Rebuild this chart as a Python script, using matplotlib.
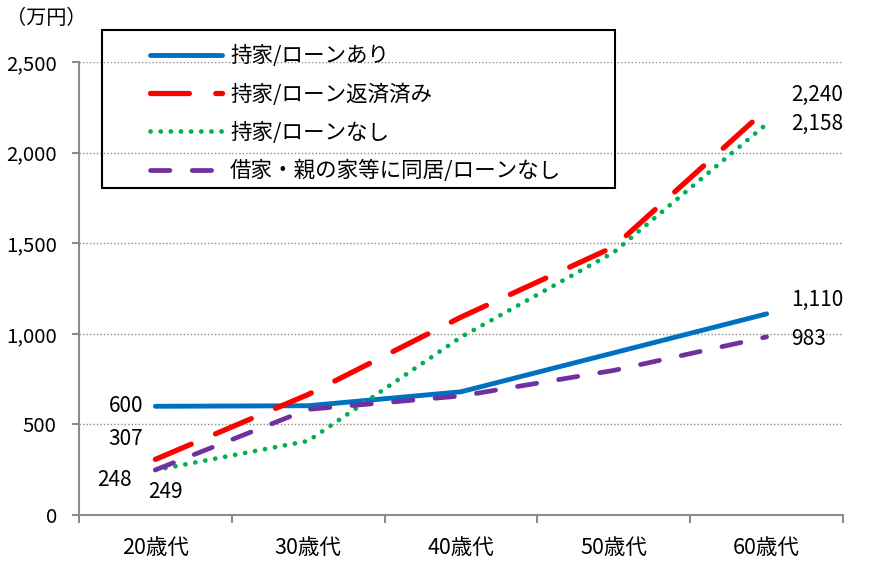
import matplotlib
matplotlib.use('Agg')
import matplotlib.pyplot as plt
from matplotlib.patches import Rectangle
from matplotlib.ticker import FixedLocator, FuncFormatter

plt.rcParams['font.family'] = ['Noto Sans CJK JP', 'DejaVu Sans']
plt.rcParams['lines.scale_dashes'] = False

# data
ages = ['20歳代', '30歳代', '40歳代', '50歳代', '60歳代']
loan_yes = [600, 603, 680, 895, 1110]
loan_paid = [307, 665, 1092, 1480, 2240]
loan_none = [248, 409, 982, 1450, 2158]
rent_none = [249, 583, 657, 798, 983]
names = ['持家/ローンあり', '持家/ローン返済済み', '持家/ローンなし', '借家・親の家等に同居/ローンなし']

W, H = 870, 570
fig = plt.figure(figsize=(W / 100, H / 100), dpi=100)
ax = fig.add_axes([79 / W, 1 - 515 / H, (843 - 79) / W, (515 - 62) / H])

x = [i + 0.5 for i in range(len(ages))]

l1, = ax.plot(x, loan_yes, color='#0070C0', lw=3.5, solid_capstyle='round')
l2, = ax.plot(x, loan_paid, color='#FF0000', lw=3.8, dashes=(28, 19),
              dash_capstyle='round')
l3, = ax.plot(x, loan_none, color='#00B050', lw=3.4, dashes=(0.1, 7.2),
              dash_capstyle='round')
l4, = ax.plot(x, rent_none, color='#7030A0', lw=3.4, dashes=(14, 16),
              dash_capstyle='round')

ax.set_xlim(0, 5)
ax.set_ylim(0, 2500)
ax.yaxis.set_major_locator(FixedLocator([0, 500, 1000, 1500, 2000, 2500]))
ax.yaxis.set_major_formatter(FuncFormatter(lambda v, p: f'{int(v):,}'))
ax.set_xticks(x)
ax.set_xticklabels(ages)
ax.set_xticks(range(6), minor=True)
ax.tick_params(axis='x', which='major', length=0, pad=16, labelsize=15.5)
ax.tick_params(axis='x', which='minor', length=6, width=1.5, color='#8c8c8c')
ax.tick_params(axis='y', length=5, width=1.5, color='#8c8c8c', pad=11, labelsize=14.7)
for s in ['top', 'right']:
    ax.spines[s].set_visible(False)
for s in ['left', 'bottom']:
    ax.spines[s].set_color('#8c8c8c')
    ax.spines[s].set_linewidth(1.5)
ax.grid(axis='y', color='#8c8c8c', linestyle=(0, (1, 1.5)), linewidth=1.0)
ax.set_axisbelow(True)

# data labels
fs = 15
ax.annotate('600', (x[0], loan_yes[0]), xytext=(-12, 0), textcoords='offset pixels',
            ha='right', va='center', fontsize=fs)
ax.annotate('307', (x[0], loan_paid[0]), xytext=(-12, 20), textcoords='offset pixels',
            ha='right', va='center', fontsize=fs)
ax.annotate('248', (x[0], loan_none[0]), xytext=(-24, -10), textcoords='offset pixels',
            ha='right', va='center', fontsize=fs)
ax.annotate('249', (x[0], rent_none[0]), xytext=(10, -22), textcoords='offset pixels',
            ha='center', va='center', fontsize=fs)
ax.annotate('2,240', (x[4], loan_paid[4]), xytext=(25, 14), textcoords='offset pixels',
            ha='left', va='center', fontsize=fs)
ax.annotate('2,158', (x[4], loan_none[4]), xytext=(25, 0), textcoords='offset pixels',
            ha='left', va='center', fontsize=fs)
ax.annotate('1,110', (x[4], loan_yes[4]), xytext=(25, 14), textcoords='offset pixels',
            ha='left', va='center', fontsize=fs)
ax.annotate('983', (x[4], rent_none[4]), xytext=(25, -2), textcoords='offset pixels',
            ha='left', va='center', fontsize=fs)

fig.text(6 / W, 1 - 18 / H, '（万円）', fontsize=14.5, ha='left', va='center')

# legend frame and entries
fig.patches.append(Rectangle((102 / W, 1 - 188 / H), (615 - 102) / W, (188 - 30) / H,
                             transform=fig.transFigure, fill=False,
                             edgecolor='black', linewidth=1.5, zorder=5))
leg = fig.legend([l1, l2, l3, l4], names, loc='upper left',
                 bbox_to_anchor=(150 / W, 1 - 45 / H), frameon=False,
                 fontsize=15.5, handlelength=3.35, handletextpad=0.37,
                 labelspacing=0.75, borderaxespad=0, borderpad=0)

fig.savefig('out.png', dpi=100)
